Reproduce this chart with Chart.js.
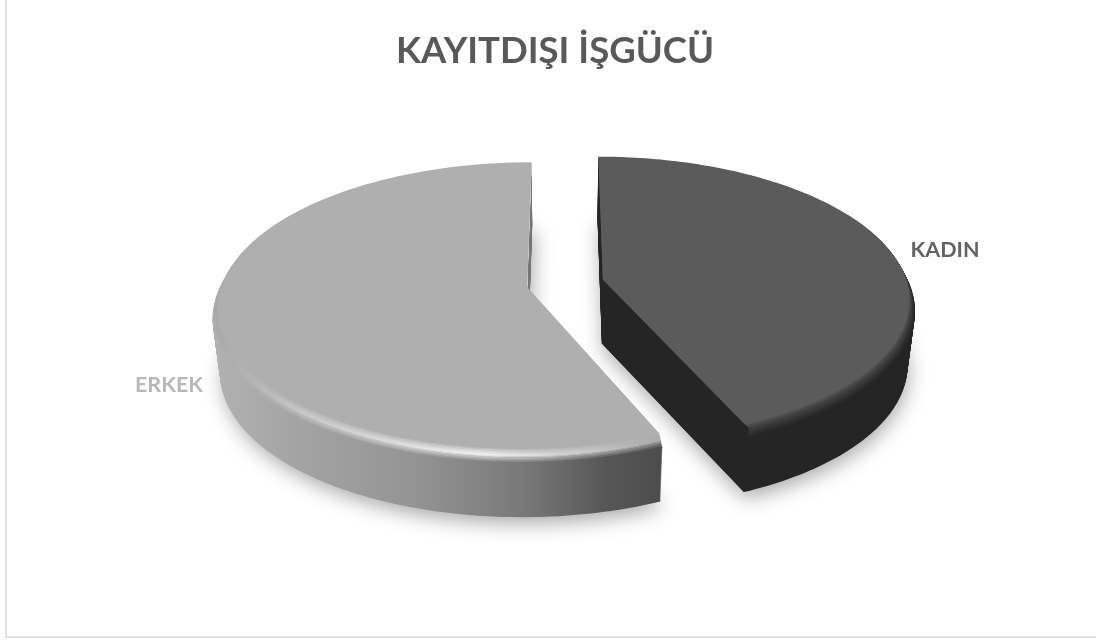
<!DOCTYPE html>
<html>
<head>
<meta charset="utf-8">
<title>KAYITDIŞI İŞGÜCÜ</title>
<script src="https://cdn.jsdelivr.net/npm/chart.js@4/dist/chart.umd.min.js"></script>
<style>
    html, body { margin: 0; padding: 0; background: #fff; }
    canvas { display: block; }
</style>
</head>
<body>
<canvas id="pieChart" width="1096" height="641"></canvas>
<script>
// Chart data
const categories = ['KADIN', 'ERKEK'];
const shares = [43.5, 56.5];
const chartTitle = 'KAYITDIŞI İŞGÜCÜ';

// 3D look of the pie
const view = { cx: 565, cy: 283, sx: 311, sy: 143, persp: 0.135, depth: 64, shrink: 0.025 };
const looks = [
    {
        top: '#5b5b5b', label: '#636363', labelPos: [945, 250],
        side: [[0, '#262626'], [1, '#242424']],
        rim: [[0, '#3a3a3a'], [1, '#3a3a3a']]
    },
    {
        top: '#afafaf', label: '#b8b8b8', labelPos: [169, 385],
        side: [[0, '#b2b2b2'], [0.2, '#a3a3a3'], [0.45, '#949494'], [0.7, '#777777'], [0.88, '#565656'], [1, '#4c4c4c']],
        rim: [[0, '#a6a6a6'], [0.2, '#c9c9c9'], [0.6, '#f0f0f0'], [0.85, '#c6c6c6'], [1, '#a8a8a8']]
    }
];

function project(u, v, dz) {
    const w = 1 - view.persp * v;
    const s = 1 - view.shrink * dz / view.depth;
    return [view.cx + view.sx * s * u / w, view.cy + view.sy * v / w + dz];
}

// the slice outline, worked out from the angles Chart.js gave the arc
function slicePoints(arc, radiusFactor, dz) {
    const mid = (arc.startAngle + arc.endAngle) / 2;
    const pull = (arc.options.offset / 4) / arc.outerRadius;
    const ox = Math.cos(mid) * pull;
    const oy = Math.sin(mid) * pull;
    const pts = [project(ox, oy, dz)];
    const steps = 140;
    for (let i = 0; i <= steps; i++) {
        const a = arc.startAngle + (arc.endAngle - arc.startAngle) * i / steps;
        pts.push(project(ox + Math.cos(a) * radiusFactor, oy + Math.sin(a) * radiusFactor, dz));
    }
    return pts;
}

function fillPoints(ctx, pts) {
    ctx.beginPath();
    pts.forEach((p, i) => (i ? ctx.lineTo(p[0], p[1]) : ctx.moveTo(p[0], p[1])));
    ctx.closePath();
    ctx.fill();
}

function xGradient(ctx, stops, x0, x1) {
    const g = ctx.createLinearGradient(x0, 0, x1, 0);
    stops.forEach(s => g.addColorStop(s[0], s[1]));
    return g;
}

function xRange(pts) {
    const xs = pts.map(p => p[0]);
    return [Math.min(...xs), Math.max(...xs)];
}

const pie3d = {
    id: 'pie3d',
    beforeDraw(chart) {
        const ctx = chart.ctx;
        ctx.save();
        ctx.fillStyle = '#fff';
        ctx.fillRect(0, 0, chart.width, chart.height);
        ctx.strokeStyle = '#e2e2e2';
        ctx.lineWidth = 2;
        ctx.beginPath();
        ctx.moveTo(6, 0);
        ctx.lineTo(6, 637);
        ctx.lineTo(chart.width, 637);
        ctx.stroke();
        ctx.restore();
    },
    beforeDatasetsDraw(chart) {
        const ctx = chart.ctx;
        const arcs = chart.getDatasetMeta(0).data;
        ctx.save();

        // soft shadow first
        arcs.forEach(arc => {
            ctx.save();
            ctx.shadowColor = 'rgba(0,0,0,0.34)';
            ctx.shadowBlur = 20;
            ctx.shadowOffsetX = 2;
            ctx.shadowOffsetY = 7;
            ctx.fillStyle = '#777';
            fillPoints(ctx, slicePoints(arc, 0.995, view.depth));
            ctx.restore();
        });

        arcs.forEach((arc, i) => {
            const look = looks[i];
            const range = xRange(slicePoints(arc, 1, 0));
            const side = xGradient(ctx, look.side, range[0], range[1]);
            const rim = xGradient(ctx, look.rim, range[0], range[1]);

            // body
            ctx.fillStyle = side;
            for (let dz = view.depth; dz >= 10; dz--) {
                fillPoints(ctx, slicePoints(arc, 1, dz));
            }
            // bevel going up from the side into the top face
            const bevel = 10;
            for (let dz = bevel; dz > 0; dz--) {
                const t = dz / bevel;
                const ring = slicePoints(arc, 1 - 0.022 * (1 - t), dz);
                ctx.globalAlpha = 1;
                ctx.fillStyle = t > 0.5 ? side : rim;
                fillPoints(ctx, ring);
                ctx.globalAlpha = 1 - Math.abs(t - 0.5) * 2;
                ctx.fillStyle = rim;
                fillPoints(ctx, ring);
                ctx.globalAlpha = Math.max(0, 1 - t * 2.2);
                ctx.fillStyle = look.top;
                fillPoints(ctx, ring);
                ctx.globalAlpha = 1;
            }
            // the straight cut faces stay sharp
            const topPts = slicePoints(arc, 1, 0);
            const lowPts = slicePoints(arc, 1, view.depth);
            if (i === 0) {
                ctx.fillStyle = '#252525';
                const last = topPts.length - 1;
                fillPoints(ctx, [topPts[0], topPts[last], lowPts[last], lowPts[0]]);
                fillPoints(ctx, [topPts[0], topPts[1], lowPts[1], lowPts[0]]);
            }
            // top face
            ctx.fillStyle = look.top;
            fillPoints(ctx, slicePoints(arc, 0.978, 0));
        });

        // labels
        ctx.font = 'bold 21.5px Lato, "Open Sans", sans-serif';
        ctx.textAlign = 'center';
        ctx.textBaseline = 'middle';
        chart.data.labels.forEach((name, i) => {
            ctx.fillStyle = looks[i].label;
            ctx.fillText(name, looks[i].labelPos[0], looks[i].labelPos[1]);
        });
        ctx.restore();
        return false;
    }
};

new Chart(document.getElementById('pieChart'), {
    type: 'pie',
    data: {
        labels: categories,
        datasets: [{
            data: shares,
            backgroundColor: looks.map(l => l.top),
            borderWidth: 0,
            offset: 110
        }]
    },
    options: {
        responsive: false,
        animation: false,
        layout: { padding: { left: 14 } },
        plugins: {
            legend: { display: false },
            tooltip: { enabled: false },
            title: {
                display: true,
                text: chartTitle,
                color: '#595959',
                font: { family: 'Lato, "Open Sans", sans-serif', size: 36.5, weight: 'bold' },
                padding: { top: 29, bottom: 17 }
            }
        }
    },
    plugins: [pie3d]
});
</script>
</body>
</html>
